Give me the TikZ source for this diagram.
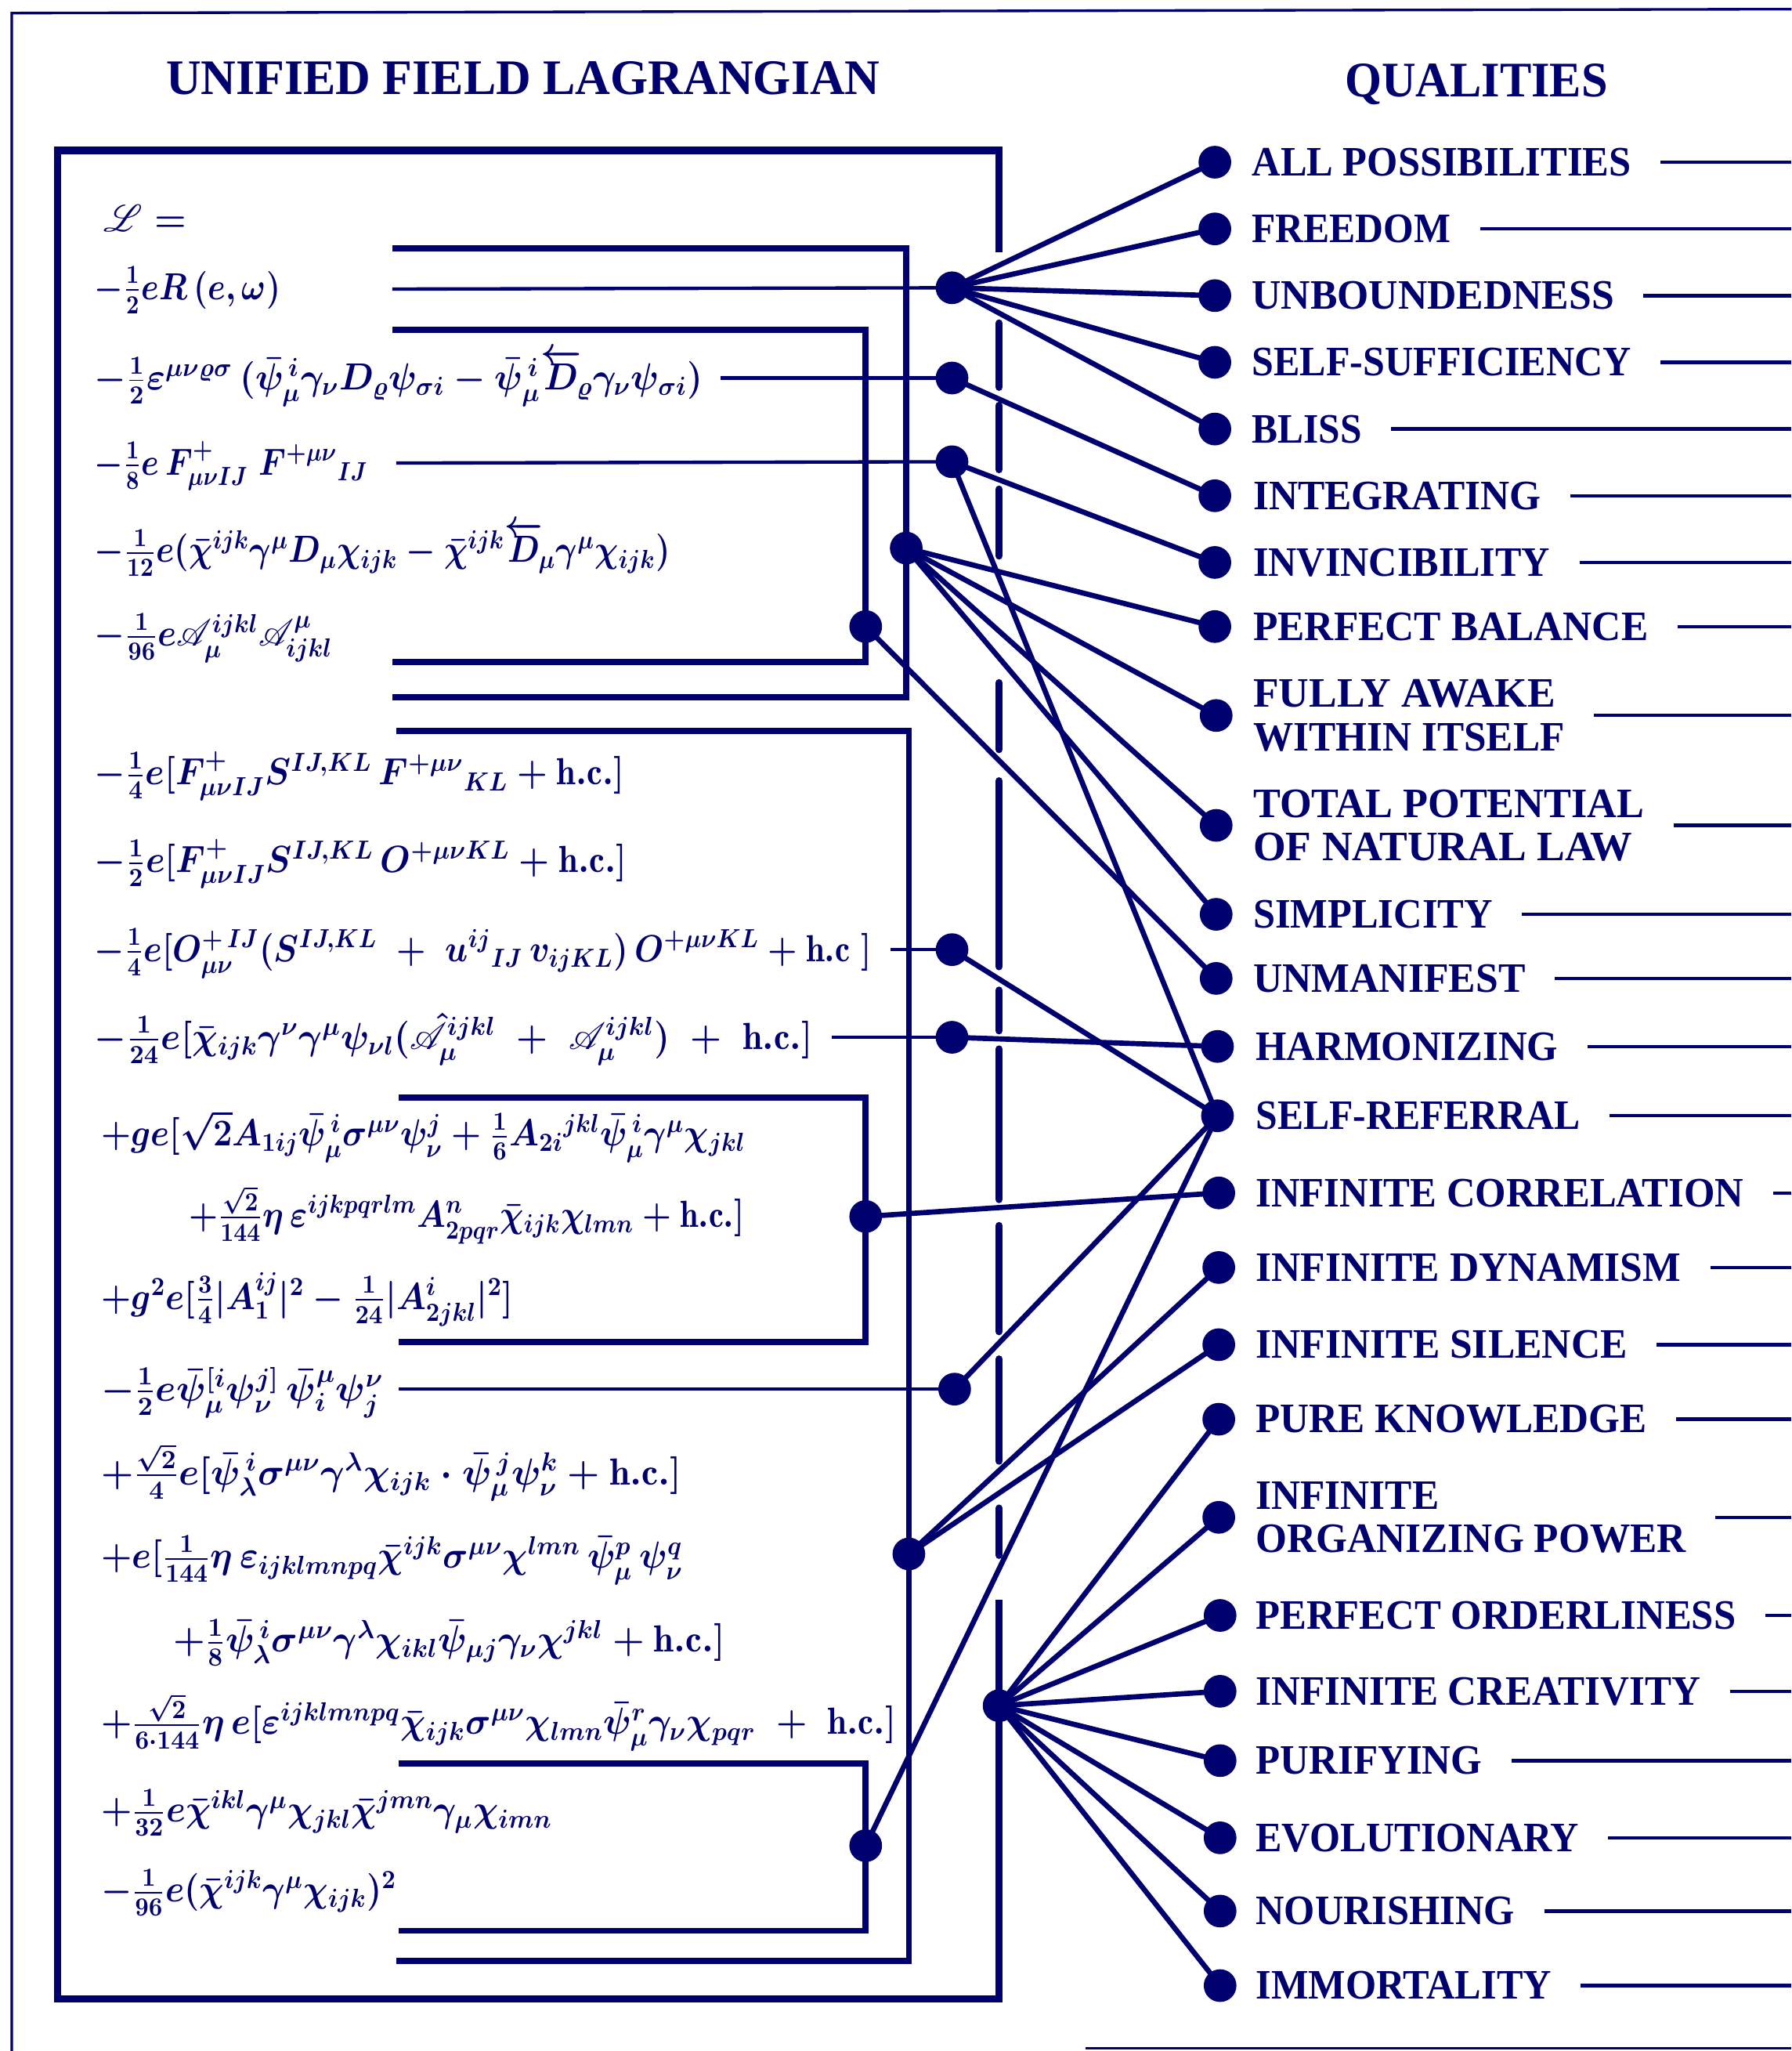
\documentclass[tikz,border=0pt]{standalone}
\usepackage{amsmath}
\usepackage{mathrsfs}
\usepackage{graphicx}
\usepackage{fontspec}
\newfontfamily\qfont{Liberation Serif}
\definecolor{navy}{HTML}{00006E}
\newlength\qu \setlength\qu{0.5pt}
\newcommand\fitw[2]{\resizebox{#1\qu}{\height}{#2}}
\tikzset{
 eq/.style={anchor=base west, inner sep=0pt, font=\fontsize{14.4}{17}\selectfont\boldmath, text=navy},
 qual/.style={anchor=west, inner sep=0pt, font=\qfont\bfseries\fontsize{16}{16.5}\selectfont, align=left, text=navy},
 ttl/.style={anchor=base, inner sep=0pt, font=\qfont\bfseries\fontsize{19}{20}\selectfont, text=navy},
 dotn/.style={circle, fill=navy, inner sep=0pt, minimum size=12.5pt},
 conn/.style={draw=navy, line width=2pt},
 lead/.style={draw=navy, line width=1.3pt},
 brk/.style={draw=navy, line width=2.3pt},
 rline/.style={draw=navy, line width=1.3pt},
 boxl/.style={draw=navy, line width=2.8pt},
 dashl/.style={draw=navy, line width=2.8pt, line cap=round},
 outerframe/.style={draw=navy, line width=1pt},
}
\begin{document}
\begin{tikzpicture}[x=0.5pt,y=-0.5pt]
\useasboundingbox (0,0) rectangle (1370,1568);
% outer frame
\draw[outerframe] (9,1568) -- (9,10) -- (1370,7);
\draw[outerframe] (830,1566) -- (1370,1566);
% titles
\node[ttl] (title1) at (400,72) {\fitw{546}{UNIFIED FIELD LAGRANGIAN}};
\node[ttl] (title2) at (1129,74) {\fitw{201}{QUALITIES}};
% inner box with dashed right side
\draw[boxl] (764,193) -- (764,115) -- (44,115) -- (44,1528) -- (764,1528) -- (764,1223);
\foreach \a/\b in {247/296,310/359,374/425,522/573,597/739,757/788,802/917,937/1018,1039/1117,1153/1189}
  \draw[dashl] (764,\a) -- (764,\b);
% equations
\node[eq] (r1) at (79,177) {\fitw{63}{$\mathscr{L}=$}};
\node[eq] (r2) at (72,229) {\fitw{142}{$-\tfrac12 eR\,(e,\omega)$}};
\node[eq] (r3) at (72,298) {\fitw{465}{$-\tfrac12\varepsilon^{\mu\nu\varrho\sigma}\,(\bar\psi^{\,i}_\mu\gamma_\nu D_\varrho\psi_{\sigma i}-\bar\psi^{\,i}_\mu\overleftarrow{D}_{\!\varrho}\gamma_\nu\psi_{\sigma i})$}};
\node[eq] (r4) at (72,363) {\fitw{209}{$-\tfrac18 e\,F^+_{\mu\nu IJ}\;F^{+\mu\nu}{}_{IJ}$}};
\node[eq] (r5) at (72,430) {\fitw{440}{$-\tfrac1{12}e(\bar\chi^{ijk}\gamma^\mu D_\mu\chi_{ijk}-\bar\chi^{ijk}\overleftarrow{D}_{\!\mu}\gamma^\mu\chi_{ijk})$}};
\node[eq] (r6) at (72,494) {\fitw{182}{$-\tfrac1{96}e\mathscr{A}^{ijkl}_\mu\mathscr{A}^\mu_{ijkl}$}};
\node[eq] (r7) at (72,600) {\fitw{405}{$-\tfrac14e[F^+_{\mu\nu IJ}S^{IJ,KL}\,F^{+\mu\nu}{}_{KL}+\mathrm{h.c.}]$}};
\node[eq] (r8) at (72,667) {\fitw{407}{$-\tfrac12e[F^+_{\mu\nu IJ}S^{IJ,KL}\,O^{+\mu\nu KL}+\mathrm{h.c.}]$}};
\node[eq] (r9) at (72,735) {\fitw{594}{$-\tfrac14e[O^{+\,IJ}_{\mu\nu}(S^{IJ,KL}\;+\;u^{ij}{}_{IJ}\,v_{ijKL})\,O^{+\mu\nu KL}+\mathrm{h.c}\;]$}};
\node[eq] (r10) at (72,802) {\fitw{549}{$-\tfrac1{24}e[\bar\chi_{ijk}\gamma^\nu\gamma^\mu\psi_{\nu l}(\hat{\mathscr{A}}^{ijkl}_\mu\;+\;\mathscr{A}^{ijkl}_\mu)\;+\;\mathrm{h.c.}]$}};
\node[eq] (r11) at (77,876) {\fitw{493}{$+ge[\sqrt2A_{1ij}\bar\psi^{\,i}_\mu\sigma^{\mu\nu}\psi^j_\nu+\tfrac16A_{2i}{}^{jkl}\bar\psi^{\,i}_\mu\gamma^\mu\chi_{jkl}$}};
\node[eq] (r12) at (144,938) {\fitw{425}{$+\tfrac{\sqrt2}{144}\eta\,\varepsilon^{ijkpqrlm}A^n_{2pqr}\bar\chi_{ijk}\chi_{lmn}+\mathrm{h.c.}]$}};
\node[eq] (r13) at (77,1001) {\fitw{315}{$+g^2e[\tfrac34|A^{ij}_1|^2-\tfrac1{24}|A^i_{2jkl}|^2]$}};
\node[eq] (r14) at (77,1071) {\fitw{216}{$-\tfrac12e\bar\psi^{[i}_\mu\psi^{j]}_\nu\,\bar\psi^\mu_i\psi^\nu_j$}};
\node[eq] (r15) at (77,1135) {\fitw{444}{$+\tfrac{\sqrt2}4e[\bar\psi^{\,i}_\lambda\sigma^{\mu\nu}\gamma^\lambda\chi_{ijk}\cdot\bar\psi^{\,j}_\mu\psi^k_\nu+\mathrm{h.c.}]$}};
\node[eq] (r16) at (77,1199) {\fitw{445}{$+e[\tfrac1{144}\eta\,\varepsilon_{ijklmnpq}\bar\chi^{ijk}\sigma^{\mu\nu}\chi^{lmn}\,\bar\psi^p_\mu\,\psi^q_\nu$}};
\node[eq] (r17) at (132,1263) {\fitw{422}{$+\tfrac18\bar\psi^{\,i}_\lambda\sigma^{\mu\nu}\gamma^\lambda\chi_{ikl}\bar\psi_{\mu j}\gamma_\nu\chi^{jkl}+\mathrm{h.c.}]$}};
\node[eq] (r18) at (77,1326) {\fitw{608}{$+\tfrac{\sqrt2}{6\cdot144}\eta\,e[\varepsilon^{ijklmnpq}\bar\chi_{ijk}\sigma^{\mu\nu}\chi_{lmn}\bar\psi^r_\mu\gamma_\nu\chi_{pqr}\;+\;\mathrm{h.c.}]$}};
\node[eq] (r19) at (77,1393) {\fitw{345}{$+\tfrac1{32}e\bar\chi^{ikl}\gamma^\mu\chi_{jkl}\bar\chi^{jmn}\gamma_\mu\chi_{imn}$}};
\node[eq] (r20) at (77,1454) {\fitw{226}{$-\tfrac1{96}e(\bar\chi^{ijk}\gamma^\mu\chi_{ijk})^2$}};
% hubs and dots in the middle
\node[dotn] (h1) at (728,220) {};
\node[dotn] (d3) at (728,289) {};
\node[dotn] (d4) at (728,353) {};
\node[dotn] (hb1) at (693,419) {};
\node[dotn] (hb2) at (662,479) {};
\node[dotn] (d9) at (728,726) {};
\node[dotn] (d10) at (728,793) {};
\node[dotn] (hb4) at (662,930) {};
\node[dotn] (d14) at (730,1062) {};
\node[dotn] (hb3) at (695,1188) {};
\node[dotn] (hbig) at (764,1304) {};
\node[dotn] (hb5) at (662,1411) {};
% brackets
\coordinate (b1s) at (300,190); \coordinate (b1e) at (300,533);
\coordinate (b2s) at (300,252); \coordinate (b2e) at (300,506);
\coordinate (b3s) at (303,559); \coordinate (b3e) at (303,1499);
\coordinate (b4s) at (305,839); \coordinate (b4e) at (305,1026);
\coordinate (b5s) at (305,1348); \coordinate (b5e) at (305,1476);
\draw[brk] (b1s) -| (hb1.center) |- (b1e);
\draw[brk] (b2s) -| (hb2.center) |- (b2e);
\draw[brk] (b3s) -| (hb3.center) |- (b3e);
\draw[brk] (b4s) -| (hb4.center) |- (b4e);
\draw[brk] (b5s) -| (hb5.center) |- (b5e);
% leaders
\coordinate (l2) at (300,221);
\coordinate (l3) at (551,289);
\coordinate (l4) at (303,354);
\coordinate (l9) at (681,726);
\coordinate (l10) at (636,793);
\coordinate (l14) at (305,1062);
\draw[lead] (l2) -- (h1.center);
\draw[lead] (l3) -- (d3.center);
\draw[lead] (l4) -- (d4.center);
\draw[lead] (l9) -- (d9.center);
\draw[lead] (l10) -- (d10.center);
\draw[lead] (l14) -- (d14.center);
% qualities
\coordinate (R) at (1370,0);
\foreach \n/\x/\y/\tx/\txt in {
 1/929/124/957/{\fitw{290}{ALL POSSIBILITIES}},
 2/929/175/957/{\fitw{152}{FREEDOM}},
 3/929/226/957/{\fitw{277}{UNBOUNDEDNESS}},
 4/929/277/957/{\fitw{290}{SELF-SUFFICIENCY}},
 5/929/328/957/{\fitw{84}{BLISS}},
 6/929/379/958/{\fitw{220}{INTEGRATING}},
 7/929/430/958/{\fitw{227}{INVINCIBILITY}},
 8/929/479/958/{\fitw{302}{PERFECT BALANCE}},
 9/930/547/958/{\fitw{231}{FULLY AWAKE}\\\fitw{238}{WITHIN ITSELF}},
 10/930/631/958/{\fitw{299}{TOTAL POTENTIAL}\\\fitw{290}{OF NATURAL LAW}},
 11/930/699/958/{\fitw{183}{SIMPLICITY}},
 12/930/748/958/{\fitw{208}{UNMANIFEST}},
 13/931/800/960/{\fitw{231}{HARMONIZING}},
 14/931/853/960/{\fitw{248}{SELF-REFERRAL}},
 15/932/912/960/{\fitw{373}{INFINITE CORRELATION}},
 16/932/969/960/{\fitw{325}{INFINITE DYNAMISM}},
 17/932/1028/960/{\fitw{284}{INFINITE SILENCE}},
 18/932/1085/960/{\fitw{299}{PURE KNOWLEDGE}},
 19/932/1160/960/{\fitw{140}{INFINITE}\\\fitw{329}{ORGANIZING POWER}},
 20/933/1235/960/{\fitw{367}{PERFECT ORDERLINESS}},
 21/933/1293/960/{\fitw{340}{INFINITE CREATIVITY}},
 22/933/1346/960/{\fitw{173}{PURIFYING}},
 23/933/1405/960/{\fitw{247}{EVOLUTIONARY}},
 24/933/1461/960/{\fitw{198}{NOURISHING}},
 25/933/1518/960/{\fitw{226}{IMMORTALITY}}}
{
 \node[dotn] (q\n) at (\x,\y) {};
 \node[qual] (t\n) at (\tx,\y) {\txt};
 \draw[rline] ([xshift=11pt]t\n.east) -- (t\n.east -| R);
}
% connectors
\foreach \q in {1,2,3,4,5} \draw[conn] (h1.center) -- (q\q.center);
\draw[conn] (d3.center) -- (q6.center);
\draw[conn] (d4.center) -- (q7.center);
\draw[conn] (d4.center) -- (q14.center);
\foreach \q in {8,9,10,11} \draw[conn] (hb1.center) -- (q\q.center);
\draw[conn] (hb2.center) -- (q12.center);
\draw[conn] (d9.center) -- (q14.center);
\draw[conn] (d10.center) -- (q13.center);
\draw[conn] (hb4.center) -- (q15.center);
\draw[conn] (d14.center) -- (q14.center);
\draw[conn] (hb5.center) -- (q14.center);
\foreach \q in {16,17} \draw[conn] (hb3.center) -- (q\q.center);
\foreach \q in {18,...,25} \draw[conn] (hbig.center) -- (q\q.center);
\end{tikzpicture}
\end{document}
